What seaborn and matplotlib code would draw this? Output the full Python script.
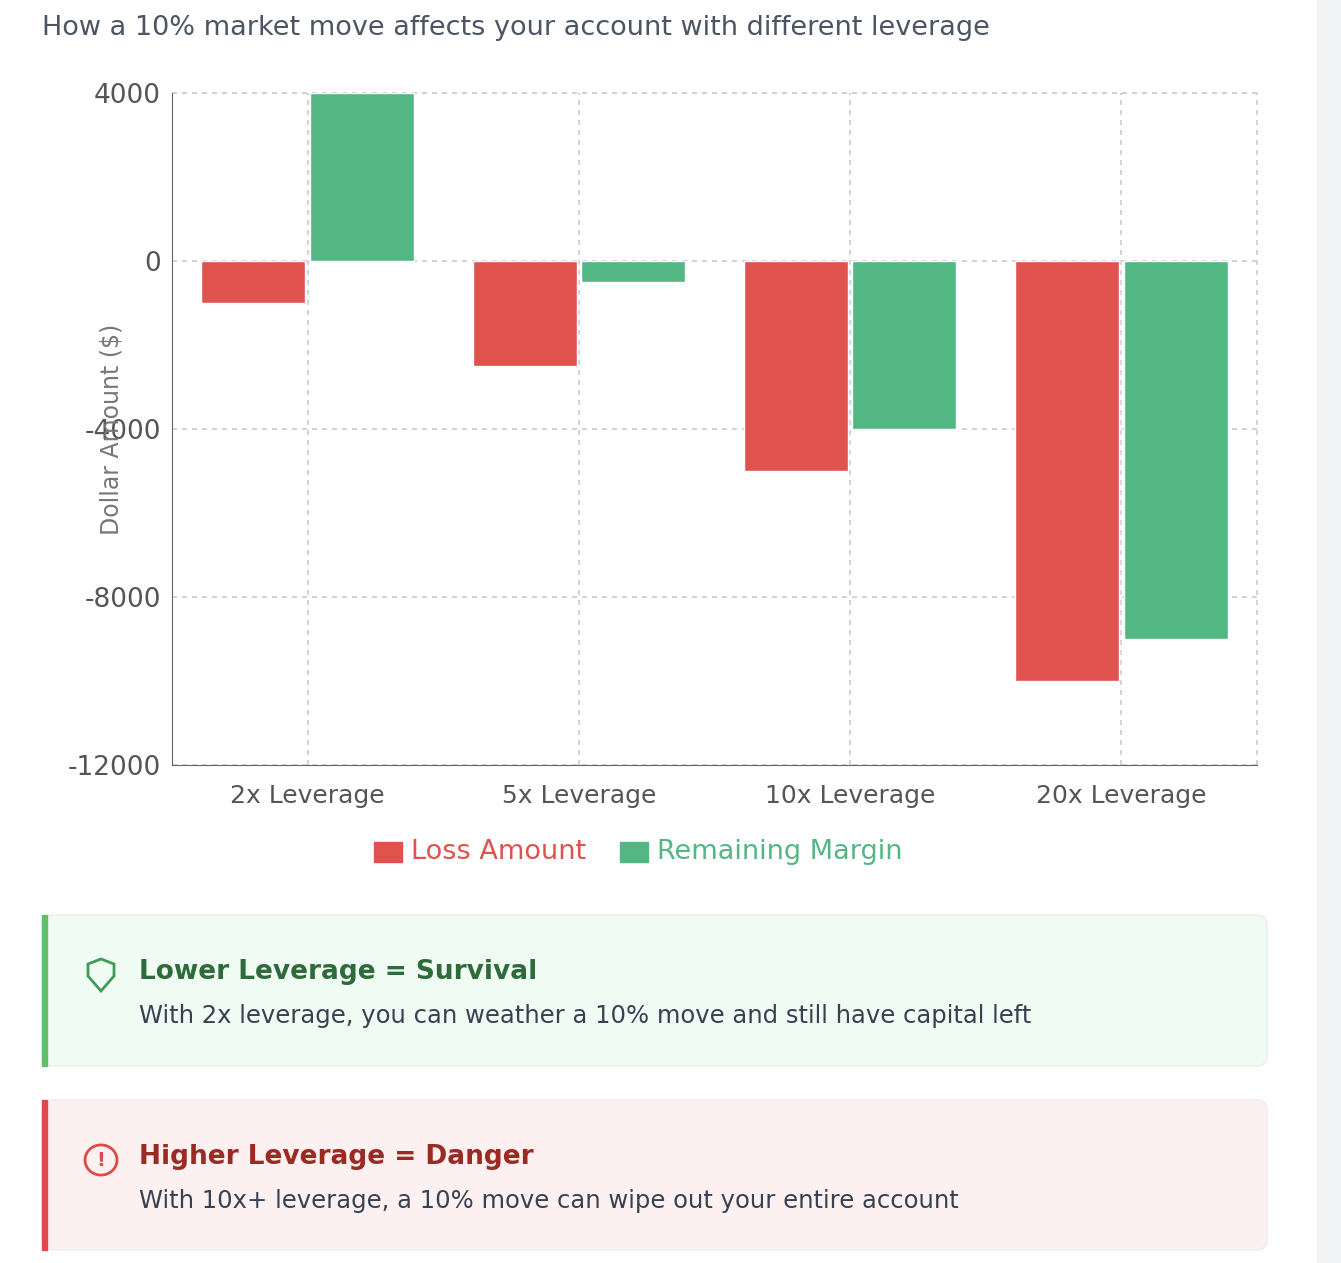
import seaborn as sns
import pandas as pd
import matplotlib.pyplot as plt
from matplotlib.patches import FancyBboxPatch, Rectangle, Circle, Polygon

categories = ["2x Leverage", "5x Leverage", "10x Leverage", "20x Leverage"]
loss_amount = [-1000, -2500, -5000, -10000]
remaining_margin = [4000, -500, -4000, -9000]
series = ["Loss Amount", "Remaining Margin"]
colors = ["#df524d", "#53b784"]


def main():
    sns.set_style("white")
    plt.rcParams['font.family'] = ['DejaVu Sans']
    df = pd.DataFrame({
        "cat": categories * 2,
        "val": loss_amount + remaining_margin,
        "series": [series[0]] * 4 + [series[1]] * 4,
    })

    W, H = 1341, 1263
    fig = plt.figure(figsize=(W / 100, H / 100), dpi=100)
    fig.patches.append(Rectangle((1317 / W, 0), 24 / W, 1, transform=fig.transFigure,
                                 color="#f3f4f6", zorder=0))
    ax = fig.add_axes([172 / W, 1 - 765 / H, 1085 / W, 672 / H])
    sns.barplot(data=df, x="cat", y="val", hue="series", palette=colors, ax=ax,
                width=0.8, gap=0.04, saturation=1, legend=False, zorder=3)
    ax.set_ylim(-12000, 4000)
    ax.set_xlim(-0.5, 3.5)
    ax.set_yticks([4000, 0, -4000, -8000, -12000])
    ax.set_yticklabels(["4000", "0", "-4000", "-8000", "-12000"])
    ax.tick_params(axis="y", labelsize=19, colors="#555555", length=6, pad=2)
    ax.tick_params(axis="x", labelsize=18, colors="#555555", length=6, pad=8)
    ax.set_xlabel("")
    ax.set_ylabel("Dollar Amount ($)", fontsize=17, color="#777777", labelpad=-40)
    for sp in ["top", "right"]:
        ax.spines[sp].set_visible(False)
    for sp in ["left", "bottom"]:
        ax.spines[sp].set_color("#666666")
    grid = dict(linestyle=(0, (3, 3)), color="#cccccc", linewidth=1.2)
    ax.grid(True, **grid)
    ax.axvline(3.5, clip_on=False, **grid)
    ax.axhline(4000, clip_on=False, **grid)
    ax.set_axisbelow(True)

    fig.text(42 / W, 1 - 28 / H, "How a 10% market move affects your account with different leverage",
             fontsize=19.5, color="#4b5563", va="center")

    # legend
    ly = 1 - 852 / H
    fig.patches.append(Rectangle((374 / W, ly - 10 / H), 28 / W, 20 / H, transform=fig.transFigure, color=colors[0]))
    fig.text(411 / W, ly, series[0], fontsize=19.5, color=colors[0], va="center")
    fig.patches.append(Rectangle((620 / W, ly - 10 / H), 28 / W, 20 / H, transform=fig.transFigure, color=colors[1]))
    fig.text(657 / W, ly, series[1], fontsize=19.5, color=colors[1], va="center")

    boxes = [
        (915, 1066, "#f0fbf3", "#5cc26a", "#2f6b3a", "Lower Leverage = Survival",
         "With 2x leverage, you can weather a 10% move and still have capital left"),
        (1100, 1250, "#fcf0f0", "#dc4a4a", "#9b2a22", "Higher Leverage = Danger",
         "With 10x+ leverage, a 10% move can wipe out your entire account"),
    ]
    for i, (y0, y1, bg, edge, tc, head, body) in enumerate(boxes):
        fig.patches.append(FancyBboxPatch((42 / W, 1 - y1 / H), 1225 / W, (y1 - y0) / H,
                                          boxstyle="round,pad=0,rounding_size=0.008",
                                          transform=fig.transFigure, facecolor=bg,
                                          edgecolor="#ececec", linewidth=1))
        fig.patches.append(Rectangle((42 / W, 1 - y1 / H), 5 / W, (y1 - y0) / H,
                                     transform=fig.transFigure, color=edge))
        hy = 1 - (y0 + 57) / H
        by = 1 - (y0 + 101) / H
        cx, cy = 101, y0 + 60
        if i == 0:
            pts = [(cx, cy - 16), (cx + 13, cy - 11), (cx + 13, cy + 1), (cx, cy + 16),
                   (cx - 13, cy + 1), (cx - 13, cy - 11)]
            fig.patches.append(Polygon([(x / W, 1 - y / H) for x, y in pts], closed=True,
                                       transform=fig.transFigure, fill=False,
                                       edgecolor="#3f9b57", linewidth=2))
        else:
            fig.patches.append(Circle((cx / W, 1 - cy / H), 16 / W, transform=fig.transFigure,
                                      fill=False, edgecolor="#dc4a4a", linewidth=2))
            fig.text(cx / W, 1 - cy / H, "!", fontsize=14, fontweight="bold",
                     color="#dc4a4a", ha="center", va="center")
        fig.text(139 / W, hy, head, fontsize=19, fontweight="bold", color=tc, va="center")
        fig.text(139 / W, by, body, fontsize=17.5, color="#374151", va="center")

    plt.savefig("out.png", dpi=100)
    plt.close()


if __name__ == '__main__':
    main()
